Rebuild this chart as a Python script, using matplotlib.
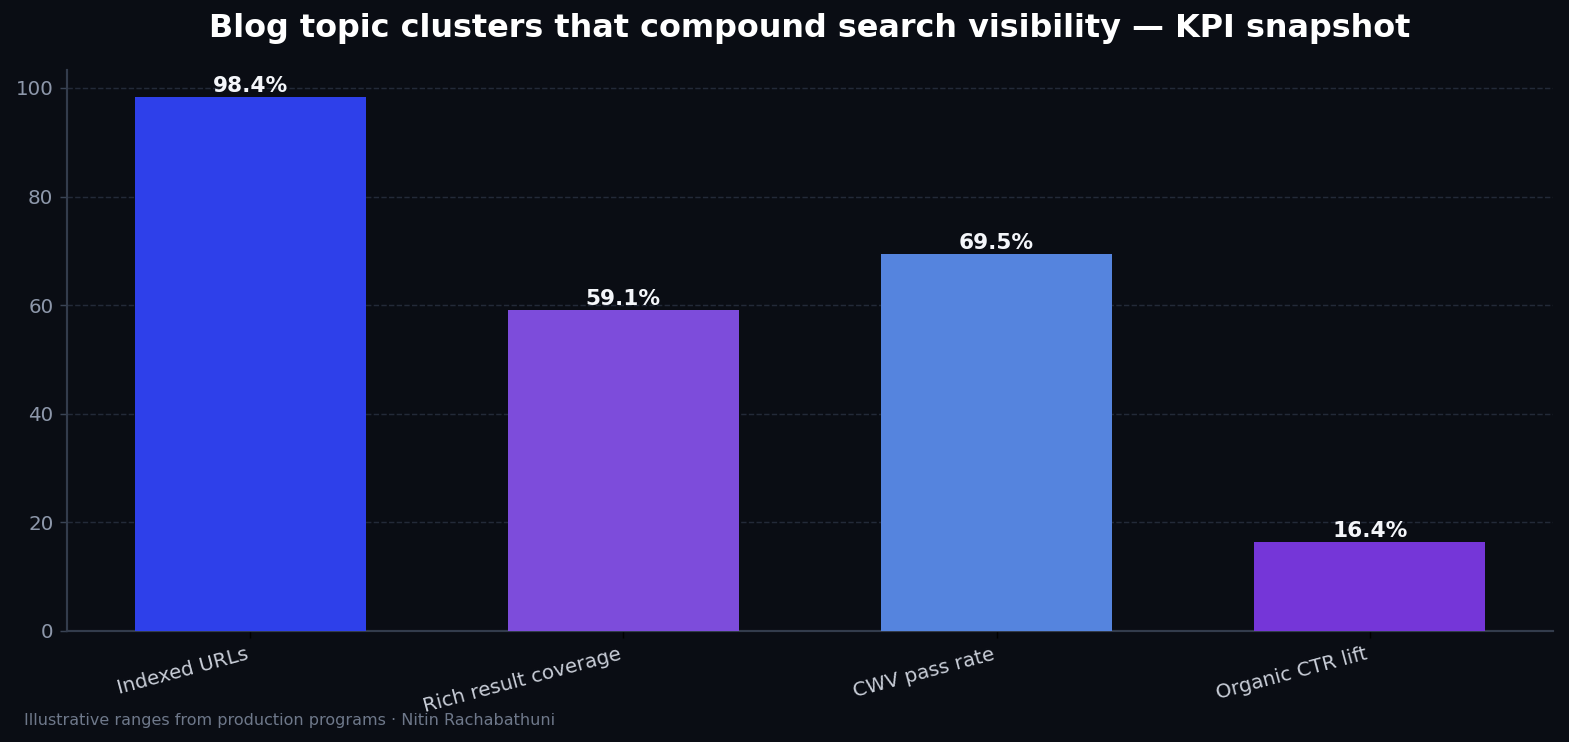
import matplotlib
matplotlib.use("Agg")
import matplotlib.pyplot as plt

plt.rcParams["font.family"] = ["DejaVu Sans"]

# data
categories = ["Indexed URLs", "Rich result coverage", "CWV pass rate", "Organic CTR lift"]
values = [98.4, 59.1, 69.5, 16.4]
colors = ["#2E40EA", "#7D4CDB", "#5584DE", "#7536D8"]

bg = "#0A0D14"
dpi = 130
fig, ax = plt.subplots(figsize=(1569 / dpi, 742 / dpi), dpi=dpi)
fig.patch.set_facecolor(bg)
ax.set_facecolor(bg)

bars = ax.bar(range(len(categories)), values, width=0.62, color=colors, zorder=3)
for b, v in zip(bars, values):
    ax.text(b.get_x() + b.get_width() / 2, v + 0.2, f"{v:.1f}%", ha="center", va="bottom",
            color="#F4F6FA", fontsize=12, fontweight="bold", zorder=4)

ax.set_ylim(0, max(values) * 1.05)
ax.set_xticks(range(len(categories)))
ax.set_xticklabels(categories, rotation=15, ha="right", color="#C9CED8", fontsize=11)
ax.tick_params(axis="x", colors="#000000", labelcolor="#C9CED8", length=4)
ax.tick_params(axis="y", colors="#3A4455", labelcolor="#8D97AA", labelsize=11, length=4)

ax.grid(axis="y", linestyle="--", color="#232A38", linewidth=0.8, zorder=0)
for s in ["top", "right"]:
    ax.spines[s].set_visible(False)
for s in ["left", "bottom"]:
    ax.spines[s].set_color("#333C4C")
    ax.spines[s].set_linewidth(1.2)

ax.set_title("Blog topic clusters that compound search visibility — KPI snapshot",
             color="#FFFFFF", fontsize=17.7, fontweight="bold", pad=18)
fig.text(0.015, 0.023, "Illustrative ranges from production programs · Nitin Rachabathuni",
         color="#6E788A", fontsize=8.9)

plt.subplots_adjust(left=0.0427, right=0.9898, top=0.9057, bottom=0.1496)
fig.savefig("out.png", dpi=dpi, facecolor=bg)
